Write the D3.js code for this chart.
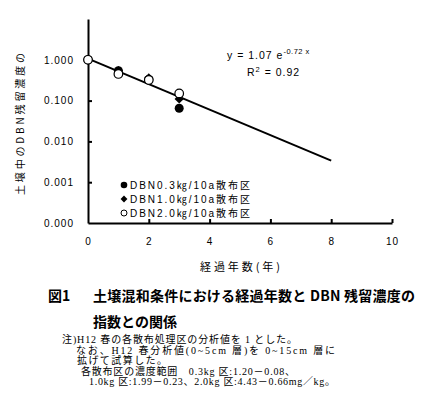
<!DOCTYPE html>
<html>
<head>
<meta charset="utf-8">
<script src="https://cdn.jsdelivr.net/npm/d3@7"></script>
<style>
  body { margin: 0; background: #fff; }
  svg { display: block; }
</style>
</head>
<body>
<div id="chart"></div>
<script>
// Data
var years = [0, 1, 2, 3];
var dbn03 = [1.0, 0.54, 0.33, 0.065];
var dbn10 = [1.0, 0.54, 0.36, 0.11];
var dbn20 = [1.0, 0.45, 0.32, 0.15];
var seriesNames = ["DBN0.3㎏/10a散布区", "DBN1.0㎏/10a散布区", "DBN2.0㎏/10a散布区"];
var yTicks = [0.0001, 0.001, 0.01, 0.1, 1];
var yTickLabels = ["0.000", "0.001", "0.010", "0.100", "1.000"];
var xTicks = [0, 2, 4, 6, 8, 10];
// fitted curve y = a e^(b x)
var fitA = 1.07, fitB = -0.72, fitRange = [0, 8];

var svgWidth = 444, svgHeight = 399;
var plotLeft = 88, plotRight = 392, plotTop = 19, plotBottom = 223;

var svg = d3.select("#chart").append("svg")
    .attr("width", svgWidth)
    .attr("height", svgHeight);
svg.append("rect").attr("width", svgWidth).attr("height", svgHeight).attr("fill", "#fff");

var x = d3.scaleLinear().domain([0, 10]).range([plotLeft, plotRight]);
var y = d3.scaleLog().domain([0.0001, 10]).range([plotBottom, plotTop]);

var axisFont = "Arial, 'Liberation Sans', sans-serif";
var jpFont = "'Noto Sans CJK JP'";

// y axis
var yAxis = svg.append("g")
    .attr("transform", `translate(${plotLeft},0)`)
    .call(d3.axisLeft(y).tickValues(yTicks).tickSizeInner(-4).tickSizeOuter(0)
        .tickPadding(14).tickFormat((d, i) => yTickLabels[i]));
// x axis
var xAxis = svg.append("g")
    .attr("transform", `translate(0,${plotBottom})`)
    .call(d3.axisBottom(x).tickValues(xTicks).tickSizeInner(-4).tickSizeOuter(0)
        .tickPadding(15));
[yAxis, xAxis].forEach(function (g) {
    g.select(".domain").attr("stroke", "#000").attr("stroke-width", 2);
    g.selectAll(".tick line").attr("stroke", "#000").attr("stroke-width", 2);
    g.selectAll(".tick text").attr("font-family", axisFont).attr("font-size", 10)
        .attr("letter-spacing", 1).attr("fill", "#000");
});
xAxis.selectAll(".tick").filter(d => d === 0).select("line").remove();
yAxis.selectAll(".tick").filter(d => d === 0.0001).select("line").remove();

// fitted line
var fitPts = fitRange.map(t => [t, fitA * Math.exp(fitB * t)]);
svg.append("path")
    .attr("d", d3.line().x(d => x(d[0])).y(d => y(d[1]))(fitPts))
    .attr("stroke", "#000").attr("stroke-width", 2).attr("fill", "none");

var diamond = d3.symbol().type(d3.symbolDiamond2).size(55);

// markers
svg.append("g").selectAll("circle")
    .data(years.map((t, i) => [t, dbn03[i]])).enter()
    .append("circle")
    .attr("cx", d => x(d[0])).attr("cy", d => y(d[1]))
    .attr("r", 4.5).attr("fill", "#000");
svg.append("g").selectAll("path")
    .data(years.map((t, i) => [t, dbn10[i]])).enter()
    .append("path")
    .attr("d", diamond)
    .attr("transform", d => `translate(${x(d[0])},${y(d[1])})`)
    .attr("fill", "#000");
svg.append("g").selectAll("circle")
    .data(years.map((t, i) => [t, dbn20[i]])).enter()
    .append("circle")
    .attr("cx", d => x(d[0])).attr("cy", d => y(d[1]))
    .attr("r", 4.3).attr("fill", "#fff").attr("stroke", "#000").attr("stroke-width", 1.2);

// legend
var legend = svg.append("g").attr("transform", "translate(124,185)");
seriesNames.forEach(function (name, i) {
    var g = legend.append("g").attr("transform", `translate(0,${i * 14})`);
    if (i === 0) g.append("circle").attr("r", 3.3).attr("fill", "#000");
    if (i === 1) g.append("path").attr("d", d3.symbol().type(d3.symbolDiamond2).size(30)).attr("fill", "#000");
    if (i === 2) g.append("circle").attr("r", 3).attr("fill", "#fff").attr("stroke", "#000");
    g.append("text").attr("x", 6).attr("y", 4)
        .attr("font-family", axisFont + ", " + jpFont)
        .attr("font-size", 10)
        .attr("textLength", 120).attr("lengthAdjust", "spacing")
        .text(name);
});

// equation
var eq = svg.append("text").attr("x", 227).attr("y", 59)
    .attr("font-family", axisFont).attr("font-size", 10.5).attr("letter-spacing", 1);
eq.append("tspan").text("y = 1.07 e");
eq.append("tspan").attr("dy", -5).attr("font-size", 7.5).attr("letter-spacing", 0.5).text("-0.72 x");
svg.append("text").attr("x", 247).attr("y", 76)
    .attr("font-family", axisFont).attr("font-size", 10.5).attr("letter-spacing", 1)
    .html("R<tspan dy='-4' font-size='7.5'>2</tspan><tspan dy='4'> = 0.92</tspan>");

// axis titles
svg.append("text")
    .attr("x", 200).attr("y", 271)
    .attr("font-family", jpFont).attr("font-size", 11)
    .attr("textLength", 80).attr("lengthAdjust", "spacing")
    .text("経過年数(年)");
svg.append("text")
    .attr("transform", "translate(24,195) rotate(-90)")
    .attr("font-family", jpFont).attr("font-size", 10)
    .attr("textLength", 142).attr("lengthAdjust", "spacing")
    .text("土壌中のDBN残留濃度の");

// caption
svg.append("text").attr("x", 48).attr("y", 301)
    .attr("font-family", jpFont).attr("font-weight", "bold").attr("font-size", 14)
    .text("図1");
svg.append("text").attr("x", 93).attr("y", 301)
    .attr("font-family", jpFont).attr("font-weight", "bold").attr("font-size", 14)
    .attr("textLength", 322).attr("lengthAdjust", "spacing")
    .text("土壌混和条件における経過年数と DBN 残留濃度の");
svg.append("text").attr("x", 93).attr("y", 327)
    .attr("font-family", jpFont).attr("font-weight", "bold").attr("font-size", 14)
    .attr("textLength", 84).attr("lengthAdjust", "spacing")
    .text("指数との関係");

// notes: [x, baseline, width, text]
var notes = [
    [62, 343, 235, "注)H12 春の各散布処理区の分析値を 1 とした。"],
    [76, 353.5, 259, "なお、H12 春分析値(0~5cm 層)を 0~15cm 層に"],
    [77, 364, 90, "拡げて試算した。"],
    [81, 374.5, 214, "各散布区の濃度範囲　0.3kg 区:1.20－0.08、"],
    [89, 385, 246, "1.0kg 区:1.99－0.23、2.0kg 区:4.43－0.66mg／kg。"]
];
svg.append("g").selectAll("text").data(notes).enter()
    .append("text")
    .attr("x", d => d[0]).attr("y", d => d[1])
    .attr("font-family", "'Liberation Serif', " + jpFont)
    .attr("font-size", 10)
    .attr("textLength", d => d[2]).attr("lengthAdjust", "spacing")
    .text(d => d[3]);
</script>
</body>
</html>
